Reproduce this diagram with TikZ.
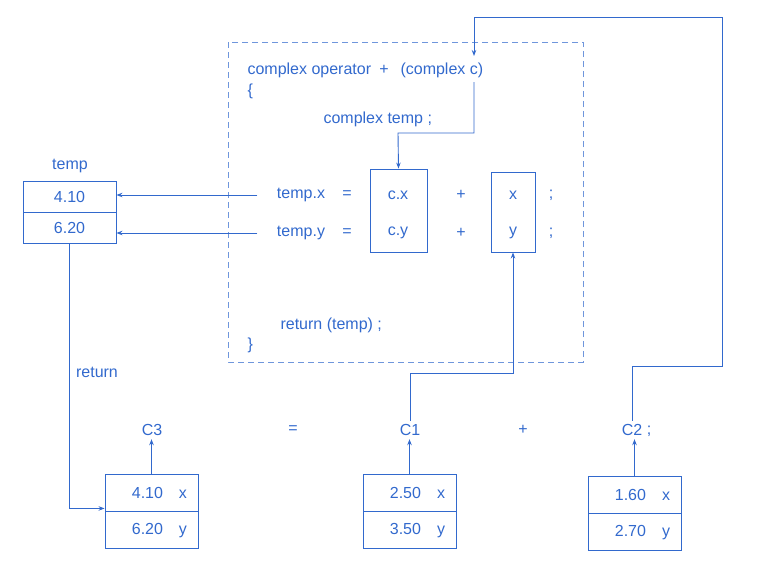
\documentclass[tikz,border=0pt]{standalone}
\usepackage{fontspec}
\setmainfont{Liberation Sans}
\usepackage{tikz}
\usetikzlibrary{positioning, arrows.meta}
\definecolor{ink}{RGB}{50,105,205}

\begin{document}
\begin{tikzpicture}[
  x=1pt, y=-1pt,
  every node/.style={text=ink, font=\fontsize{16}{18}\selectfont},
  cell/.style={rectangle, draw=ink, line width=0.9pt, minimum width=93pt,
               minimum height=37pt, text width=71pt, align=right, inner sep=0pt},
  tcell/.style={rectangle, draw=ink, line width=0.9pt, minimum width=93pt,
                minimum height=31pt, inner sep=0pt},
  vbox/.style={rectangle, draw=ink, line width=0.9pt, inner sep=0pt},
  arrow/.style={-{Stealth[length=6pt, width=4.5pt]}, ink, line width=0.9pt},
  link/.style={ink, line width=0.9pt}
]
\useasboundingbox (0,0) rectangle (768,573);

% Function body
\draw[ink!70, line width=0.9pt, dash pattern=on 6pt off 4pt] (228,42) rectangle (583,362);
\node[anchor=west] (hdr) at (244,70) {complex operator};
\node (plus) at (384,70) {+};
\node[anchor=west] (param) at (397,70) {(complex c)};
\node[anchor=west] (brace) at (244,91) {\{};
\node[anchor=west] (decl) at (320,119) {complex temp ;};

\node[vbox, minimum width=57pt, minimum height=83pt] (cbox) at (398.5,210.5) {};
\node[vbox, minimum width=44pt, minimum height=80pt] (xbox) at (513,212) {};

% Row x
\node (tmpx) at (301,195) {temp.x};
\node (eqx) at (347,195) {=};
\node (cx) at (398,195) {c.x};
\node (plx) at (461,195) {+};
\node (xx) at (513,195) {x};
\node (scx) at (551,195) {;};

% Row y
\node (tmpy) at (301,233) {temp.y};
\node (eqy) at (347,233) {=};
\node (cy) at (398,233) {c.y};
\node (ply) at (461,233) {+};
\node (yy) at (513,233) {y};
\node (scy) at (551,233) {;};

\node[anchor=west] (ret) at (277,325) {return (temp) ;};
\node[anchor=west] (close) at (244,345) {\}};

% temp object
\node (tlbl) at (70,166) {temp};
\node[tcell] (tx) at (69.5,196.5) {4.10};
\node[tcell, below=0pt of tx] (ty) {6.20};

% Objects in main
\node (c3lbl) at (152,430) {C3};
\node (eqm) at (293,430) {=};
\node (c1lbl) at (410,430) {C1};
\node (plm) at (523,430) {+};
\node (c2lbl) at (632,430) {C2};
\node (scm) at (649,431) {;};

\node[cell] (c3x) at (151.5,492.5) {4.10\hspace{16pt}x};
\node[cell, below=0pt of c3x] (c3y) {6.20\hspace{16pt}y};
\node[cell] (c1x) at (409.5,492.5) {2.50\hspace{16pt}x};
\node[cell, below=0pt of c1x] (c1y) {3.50\hspace{16pt}y};
\node[cell] (c2x) at (634.5,494.5) {1.60\hspace{16pt}x};
\node[cell, below=0pt of c2x] (c2y) {2.70\hspace{16pt}y};

\node (rlbl) at (97,372) {return};

% Bends
\coordinate (cin) at (474,56);
\coordinate (cout) at (474,82);
\coordinate (k1) at (513,373);
\coordinate (k2) at (722,366);
\coordinate (k3) at (722,17);
\coordinate (k4) at (398,133);

% Arrows
\draw[arrow] ([xshift=-16pt]tmpx.west) -- (tmpx.west -| tx.east);
\draw[arrow] ([xshift=-16pt]tmpy.west) -- (tmpy.west -| ty.east);
\draw[arrow] (ty.south) |- ([yshift=3pt]c3y.north west);
\draw[arrow] (c3x.north) -- (c3x.north |- c3lbl.south);
\draw[arrow] (c1x.north) -- (c1x.north |- c1lbl.south);
\draw[arrow] (c2x.north) -- (c2x.north |- c2lbl.south);
\draw[arrow] (c1lbl.north) |- (k1) -- (xbox.south);
\draw[arrow] (c2lbl.north) |- (k2) -- (k3) -| (cin);
\draw[arrow] (cout) |- (k4) -- (cbox.north);

\end{tikzpicture}
\end{document}
